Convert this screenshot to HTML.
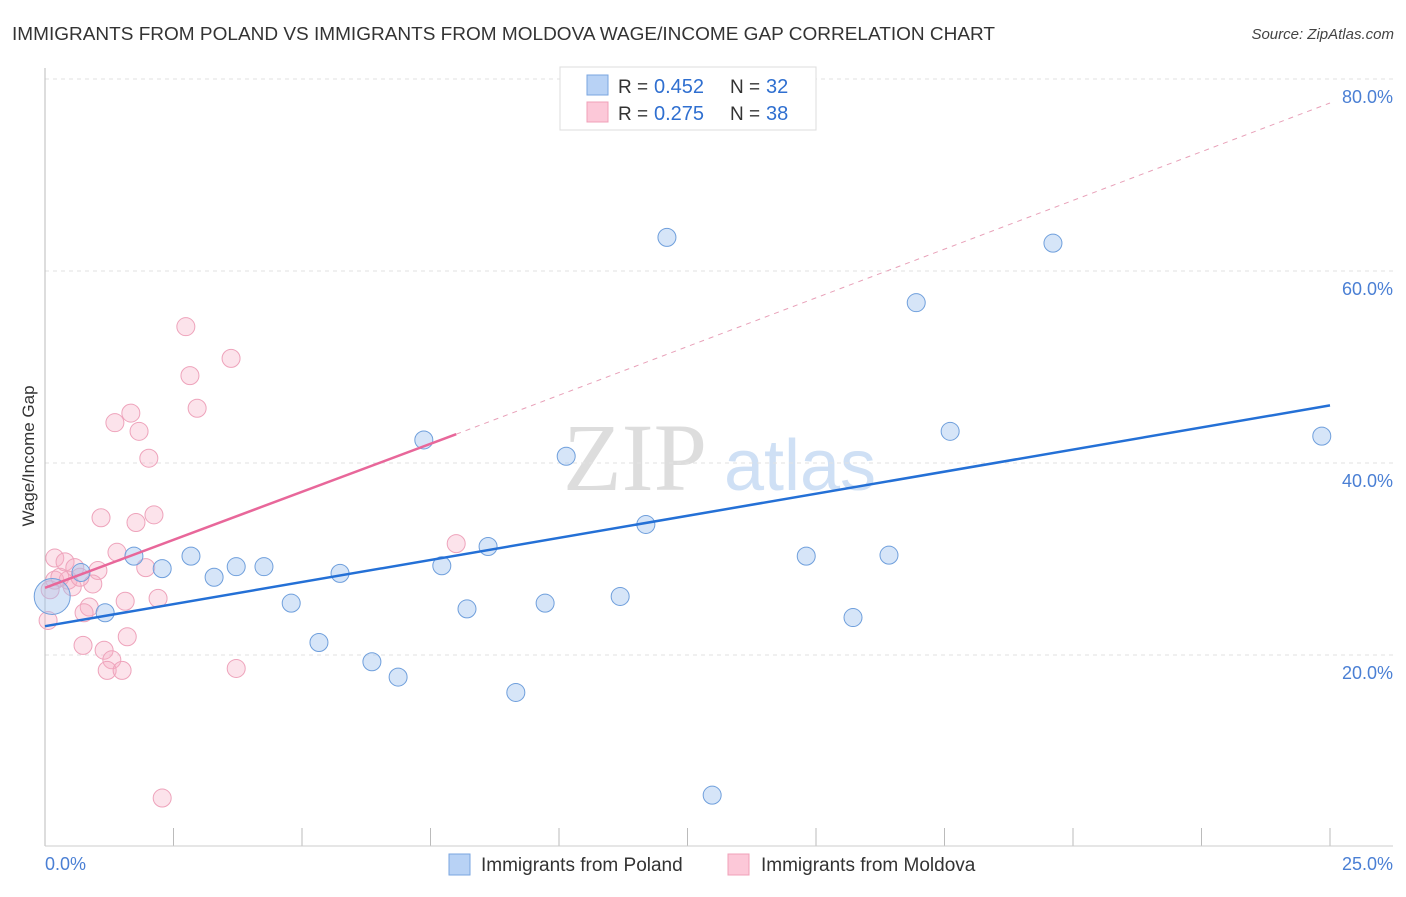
<!DOCTYPE html>
<html><head><meta charset="utf-8"><style>
body{margin:0;background:#fff;font-family:"Liberation Sans",sans-serif;}
</style></head><body>
<svg width="1406" height="892" xmlns="http://www.w3.org/2000/svg" id="svg" font-family="Liberation Sans, sans-serif">
<text x="12" y="40" font-size="18" fill="#333" textLength="983" lengthAdjust="spacingAndGlyphs">IMMIGRANTS FROM POLAND VS IMMIGRANTS FROM MOLDOVA WAGE/INCOME GAP CORRELATION CHART</text>
<text x="1394" y="39" font-size="15" fill="#444" font-style="italic" text-anchor="end">Source: ZipAtlas.com</text>
<text x="635" y="490" font-size="96" fill="#ddd" font-family="Liberation Serif, serif" text-anchor="middle">ZIP</text>
<text x="800" y="490" font-size="72" fill="#cfe0f5" text-anchor="middle">atlas</text>
<g id="grid"></g>
<line x1="45" y1="68" x2="45" y2="846" stroke="#bbb"/>
<line x1="45" y1="846" x2="1393" y2="846" stroke="#ccc"/>
<text transform="translate(34,456) rotate(-90)" font-size="17" fill="#333" text-anchor="middle">Wage/Income Gap</text>
<text x="45" y="870" font-size="18" fill="#4a7fd4">0.0%</text>
<text x="1393" y="870" font-size="18" fill="#4a7fd4" text-anchor="end">25.0%</text>
<g id="marks"></g>
<g>
<rect x="560" y="67" width="256" height="63" fill="#fff" stroke="#ddd"/>
<rect x="587" y="75" width="21" height="20" fill="#b8d2f5" stroke="#7aa6e0"/>
<rect x="587" y="102" width="21" height="20" fill="#fcc8d8" stroke="#f0a0b8"/>
<text x="618" y="93" font-size="19" fill="#333">R = </text><text x="654" y="93" font-size="20" fill="#2f6fd0">0.452</text>
<text x="730" y="93" font-size="19" fill="#333">N = </text><text x="766" y="93" font-size="20" fill="#2f6fd0">32</text>
<text x="618" y="120" font-size="19" fill="#333">R = </text><text x="654" y="120" font-size="20" fill="#2f6fd0">0.275</text>
<text x="730" y="120" font-size="19" fill="#333">N = </text><text x="766" y="120" font-size="20" fill="#2f6fd0">38</text>
</g>
<g>
<rect x="449" y="854" width="21" height="21" fill="#b8d2f5" stroke="#7aa6e0"/>
<text x="481" y="871" font-size="19" fill="#333">Immigrants from Poland</text>
</g>
<g>
<rect x="728" y="854" width="21" height="21" fill="#fcc8d8" stroke="#f0a0b8"/>
<text x="761" y="871" font-size="19" fill="#333">Immigrants from Moldova</text>
</g>
</svg>
<script>
const yTicks=[20,40,60,80];
const yTickLabels=["20.0%","40.0%","60.0%","80.0%"];
const xTicks=[0,2.5,5,7.5,10,12.5,15,17.5,20,22.5,25];
const polandX=[12.10,19.61,16.95,17.61,24.84,7.37,10.14,11.69,8.62,14.81,16.42,2.84,1.73,2.28,3.72,4.26,3.29,5.74,7.72,0.70,4.79,9.73,11.19,8.21,1.17,15.72,5.33,6.36,6.87,9.16,12.98,0.14];
const polandY=[63.5,62.9,56.7,43.3,42.8,42.4,40.7,33.6,31.3,30.3,30.4,30.3,30.3,29.0,29.2,29.2,28.1,28.5,29.3,28.6,25.4,25.4,26.1,24.8,24.4,23.9,21.3,19.3,17.7,16.1,5.4,26.1];
const polandR=[9,9,9,9,9,9,9,9,9,9,9,9,9,9,9,9,9,9,9,9,9,9,9,9,9,9,9,9,9,9,9,18];
const moldovaX=[2.74,3.62,2.82,2.96,1.67,1.36,1.83,2.02,1.09,2.12,1.77,0.19,1.40,0.39,0.58,1.03,1.96,0.19,0.45,0.93,0.53,2.20,1.56,0.86,0.76,0.06,1.60,0.74,1.15,1.30,1.21,1.50,3.72,8.00,2.28,0.10,0.29,0.68];
const moldovaY=[54.2,50.9,49.1,45.7,45.2,44.2,43.3,40.5,34.3,34.6,33.8,30.1,30.7,29.7,29.1,28.8,29.1,27.8,27.8,27.4,27.1,25.9,25.6,25.0,24.4,23.6,21.9,21.0,20.5,19.5,18.4,18.4,18.6,31.6,5.1,26.8,28.1,28.1];
const polandTrend=[[0,23.0],[25,46.0]];
const moldovaTrendSolid=[[0,27.0],[8.0,43.0]];
const moldovaTrendDash=[[8.0,43.0],[25,77.5]];
const X=v=>45+v*51.4, Y=v=>847-v*9.6;
const NS="http://www.w3.org/2000/svg";
const grid=document.getElementById('grid'), marks=document.getElementById('marks');
function mk(tag,attrs,parent){const e=document.createElementNS(NS,tag);for(const k in attrs)e.setAttribute(k,attrs[k]);parent.appendChild(e);return e;}
yTicks.forEach((t,i)=>{
  const l=mk('line',{x1:45,x2:1393,y1:Y(t),y2:Y(t),stroke:'#e2e2e2','stroke-dasharray':'4,4'},grid);
  
  
  const tx=mk('text',{x:1393,y:Y(t)+24,'font-size':18,fill:'#4a7fd4','text-anchor':'end'},grid);
  tx.textContent=yTickLabels[i];
  
  
});
xTicks.forEach(t=>{
  const l=mk('line',{x1:X(t),x2:X(t),y1:828,y2:846,stroke:'#bbb'},grid);
  
  
});
function line(p,color,dash,name,w){const l=mk('line',{x1:X(p[0][0]),y1:Y(p[0][1]),x2:X(p[1][0]),y2:Y(p[1][1]),stroke:color,'stroke-width':w},marks);if(dash)l.setAttribute('stroke-dasharray',dash);
  
  }
moldovaX.forEach((x,i)=>{
  const c=mk('circle',{cx:X(x),cy:Y(moldovaY[i]),r:9,fill:'rgba(246,175,198,0.35)',stroke:'#eea3bb','stroke-width':1},marks);
  
  
});
polandX.forEach((x,i)=>{
  const c=mk('circle',{cx:X(x),cy:Y(polandY[i]),r:polandR[i],fill:'rgba(165,198,240,0.45)',stroke:'#6f9fdc','stroke-width':1},marks);
  
  
});
line(moldovaTrendDash,'#e8a0b8','5,5','moldova-trend-extension',1);
line(moldovaTrendSolid,'#e8679a',null,'moldova-trend-line',2.5);
line(polandTrend,'#2470d6',null,'poland-trend-line',2.5);
</script>
</body></html>
